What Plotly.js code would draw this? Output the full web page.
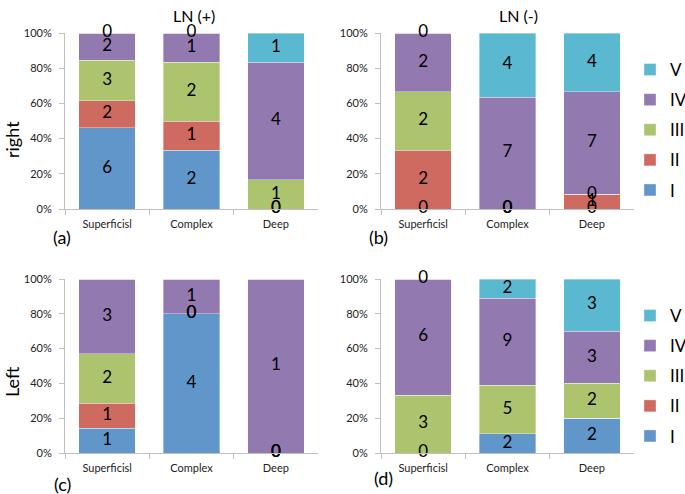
<!DOCTYPE html>
<html>
<head>
<meta charset="utf-8">
<script src="https://cdn.plot.ly/plotly-3.0.1.min.js"></script>
<style>html,body{margin:0;padding:0;background:#fff;overflow:hidden}#wrap{width:685px;height:494px;overflow:hidden}#chart{width:720px;height:494px}</style>
</head>
<body>
<div id="wrap"><div id="chart"></div></div>
<script>
// Categories and grades
const categories = ['Superficisl', 'Complex', 'Deep'];
const grades = ['I', 'II', 'III', 'IV', 'V'];

// (a) right, LN (+)
const a_I = [6, 2, 0];
const a_II = [2, 1, 0];
const a_III = [3, 2, 1];
const a_IV = [2, 1, 4];
const a_V = [0, 0, 1];

// (b) right, LN (-)
const b_I = [0, 0, 0];
const b_II = [2, 0, 1];
const b_III = [2, 0, 0];
const b_IV = [2, 7, 7];
const b_V = [0, 4, 4];

// (c) Left, LN (+)
const c_I = [1, 4, 0];
const c_II = [1, 0, 0];
const c_III = [2, 0, 0];
const c_IV = [3, 1, 1];
const c_V = [null, null, null];

// (d) Left, LN (-)
const d_I = [0, 2, 2];
const d_II = [null, null, null];
const d_III = [3, 5, 2];
const d_IV = [6, 9, 3];
const d_V = [0, 2, 3];

const colors = ['#6096C9', '#CF6A60', '#ABC46D', '#9279AF', '#5BB8D1'];
const FONT = 'Lato, "Open Sans", sans-serif';

const panels = [
  {series: [a_I, a_II, a_III, a_IV, a_V], xa: 'x', ya: 'y', legend: null},
  {series: [b_I, b_II, b_III, b_IV, b_V], xa: 'x2', ya: 'y2', legend: 'legend'},
  {series: [c_I, c_II, c_III, c_IV, c_V], xa: 'x3', ya: 'y3', legend: null},
  {series: [d_I, d_II, d_III, d_IV, d_V], xa: 'x4', ya: 'y4', legend: 'legend2'}
];

const traces = [];
panels.forEach((p, pi) => {
  const totals = categories.map((c, ci) => p.series.reduce((s, arr) => s + (arr[ci] || 0), 0));
  const cum = categories.map(() => 0);
  const lx = [], ly = [], lt = [];
  p.series.forEach((arr, gi) => {
    const pct = arr.map((v, ci) => (v || 0) / totals[ci] * 100);
    traces.push({
      type: 'bar', x: categories, y: pct, name: grades[gi],
      xaxis: p.xa, yaxis: p.ya,
      marker: {color: colors[gi], line: {color: 'rgba(255,255,255,0.6)', width: 0.6}},
      showlegend: !!p.legend, legend: p.legend || 'legend',
      legendgroup: 'g' + gi + '_' + pi,
      legendrank: 10 - gi,
      hoverinfo: 'skip'
    });
    arr.forEach((v, ci) => {
      if (v !== null) {
        lx.push(categories[ci]);
        ly.push(cum[ci] + pct[ci] / 2);
        lt.push(String(v));
      }
    });
    pct.forEach((v, ci) => { cum[ci] += v; });
  });
  traces.push({
    type: 'scatter', mode: 'text', x: lx, y: ly, text: lt,
    textposition: 'middle center',
    textfont: {family: FONT, size: 17, color: '#000'},
    xaxis: p.xa, yaxis: p.ya, showlegend: false, hoverinfo: 'skip', cliponaxis: false
  });
});

// paper slightly wider than the visible 685px window so the legend is not pushed left
const W = 720, H = 494;
const xdomL = [65 / W, 318 / W];
const xdomR = [381 / W, 634 / W];
const ydomT = [1 - 209 / H, 1 - 33 / H];
const ydomB = [1 - 453 / H, 1 - 279 / H];

function xax(dom, anchor) {
  return {
    domain: dom, anchor: anchor, type: 'category', range: [-0.5, 2.5],
    showline: true, linecolor: '#BFBFBF', linewidth: 1,
    ticks: 'outside', tickson: 'boundaries', ticklen: 5, tickcolor: '#BFBFBF',
    ticklabelstandoff: 5,
    showgrid: false, zeroline: false, fixedrange: true,
    tickfont: {family: FONT, size: 11, color: '#222'}
  };
}
function yax(dom, anchor) {
  return {
    domain: dom, anchor: anchor, range: [0, 100],
    tickvals: [0, 20, 40, 60, 80, 100], ticktext: ['0%', '20%', '40%', '60%', '80%', '100%'],
    showline: true, linecolor: '#BFBFBF', linewidth: 1,
    ticks: 'outside', ticklen: 5, tickcolor: '#BFBFBF',
    ticklabelstandoff: 5,
    showgrid: false, zeroline: false, fixedrange: true,
    tickfont: {family: FONT, size: 11, color: '#222'}
  };
}

const ann = (text, x, y, size, extra) => Object.assign({
  text: text, x: x / W, y: 1 - y / H, xref: 'paper', yref: 'paper',
  showarrow: false, xanchor: 'center', yanchor: 'middle',
  font: {family: FONT, size: size, color: '#000'}
}, extra || {});

const legendBase = {
  font: {family: FONT, size: 17, color: '#000'},
  traceorder: 'grouped', tracegroupgap: 5,
  bgcolor: 'rgba(0,0,0,0)', itemwidth: 30, xanchor: 'left', yanchor: 'top'
};

const layout = {
  width: W, height: H,
  margin: {l: 0, r: 0, t: 0, b: 0},
  paper_bgcolor: '#fff', plot_bgcolor: '#fff',
  barmode: 'stack', bargap: 0.33,
  showlegend: true,
  xaxis: xax(xdomL, 'y'), yaxis: yax(ydomT, 'x'),
  xaxis2: xax(xdomR, 'y2'), yaxis2: yax(ydomT, 'x2'),
  xaxis3: xax(xdomL, 'y3'), yaxis3: yax(ydomB, 'x3'),
  xaxis4: xax(xdomR, 'y4'), yaxis4: yax(ydomB, 'x4'),
  legend: Object.assign({}, legendBase, {x: 630 / W, y: 1 - 52 / H}),
  legend2: Object.assign({}, legendBase, {x: 630 / W, y: 1 - 298 / H}),
  annotations: [
    ann('LN (+)', 194, 16, 16),
    ann('LN (-)', 518, 16, 16),
    ann('right', 12, 140, 18, {textangle: -90}),
    ann('Left', 12, 382, 18, {textangle: -90}),
    ann('(a)', 62, 237, 18),
    ann('(b)', 378, 237, 18),
    ann('(c)', 63, 484, 18),
    ann('(d)', 383, 478, 18)
  ]
};

Plotly.newPlot('chart', traces, layout, {displayModeBar: false, staticPlot: true});
</script>
</body>
</html>
